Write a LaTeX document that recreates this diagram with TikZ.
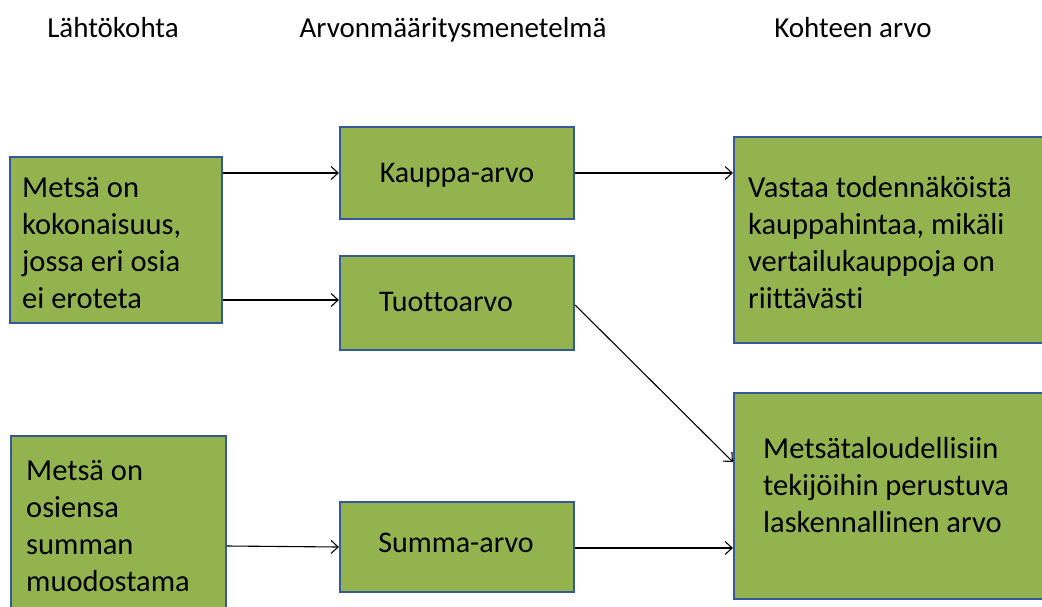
\documentclass[tikz,border=0pt]{standalone}
\usepackage{fontspec}
\setmainfont{Carlito}[Ligatures=NoCommon]
\usetikzlibrary{arrows.meta,calc}
\definecolor{boxfill}{HTML}{92B34E}
\definecolor{boxline}{HTML}{34589A}
\begin{document}
\begin{tikzpicture}[x=1pt,y=-1pt,
  box/.style={draw=boxline,line width=2.2pt,fill=boxfill,rectangle,inner sep=0pt},
  txt/.style={font=\fontsize{30.5}{37}\selectfont,align=left,inner sep=0pt,anchor=west},
  mtxt/.style={font=\fontsize{30}{37}\selectfont,inner sep=0pt},
  head/.style={font=\fontsize{29}{32}\selectfont,inner sep=0pt,anchor=base},
  arr/.style={-{Straight Barb[length=7pt,width=13pt]},line width=1.1pt,black}]
\useasboundingbox (0,0) rectangle (1042,606);
\clip (0,0) rectangle (1042,606);
% headers
\node[head] (h1) at (113,37) {Lähtökohta};
\node[head] (h2) at (453,37) {Arvonmääritysmenetelmä};
\node[head] (h3) at (853,37) {Kohteen arvo};
% boxes
\node[box,minimum width=212pt,minimum height=166pt] (L1) at (116,240) {};
\node[box,minimum width=215pt,minimum height=180pt] (L2) at (118.5,526) {};
\node[box,minimum width=234pt,minimum height=92pt] (M1) at (457,173) {};
\node[box,minimum width=234pt,minimum height=94pt] (M2) at (457,303) {};
\node[box,minimum width=234pt,minimum height=90pt] (M3) at (457,547) {};
\node[box,minimum width=316pt,minimum height=206pt] (R1) at (892,240) {};
\node[box,minimum width=316pt,minimum height=206pt] (R2) at (892,496) {};
% texts
\node[txt] (tL1) at (22,243) {Metsä on\\kokonaisuus,\\jossa eri osia\\ei eroteta};
\node[txt] (tL2) at (26,526) {Metsä on\\osiensa\\summan\\muodostama};
\node[mtxt] (tM1) at (457,175) {Kauppa-arvo};
\node[mtxt] (tM2) at (446,302) {Tuottoarvo};
\node[mtxt] (tM3) at (456,543) {Summa-arvo};
\node[txt] (tR1) at (748,243) {Vastaa todennäköistä\\kauppahintaa, mikäli\\vertailukauppoja on\\riittävästi};
\node[txt] (tR2) at (763,485) {Metsätaloudellisiin\\tekijöihin perustuva\\laskennallinen arvo};
% connectors
\draw[arr] (L1.east |- M1.west) -- (M1.west);
\draw[arr] ([yshift=3pt]L1.east |- M2.west) -- ([yshift=3pt]M2.west);
\draw[arr] ([yshift=1pt]L2.east |- M3.west) -- (M3.west);
\draw[arr] (M1.east) -- (M1.east -| R1.west);
\draw[arr] ([yshift=-2pt]M2.east) -- ([yshift=34pt]R2.west);
\draw[arr] ([yshift=-1pt]M3.east) -- ([yshift=-1pt]M3.east -| R2.west);
\end{tikzpicture}
\end{document}
